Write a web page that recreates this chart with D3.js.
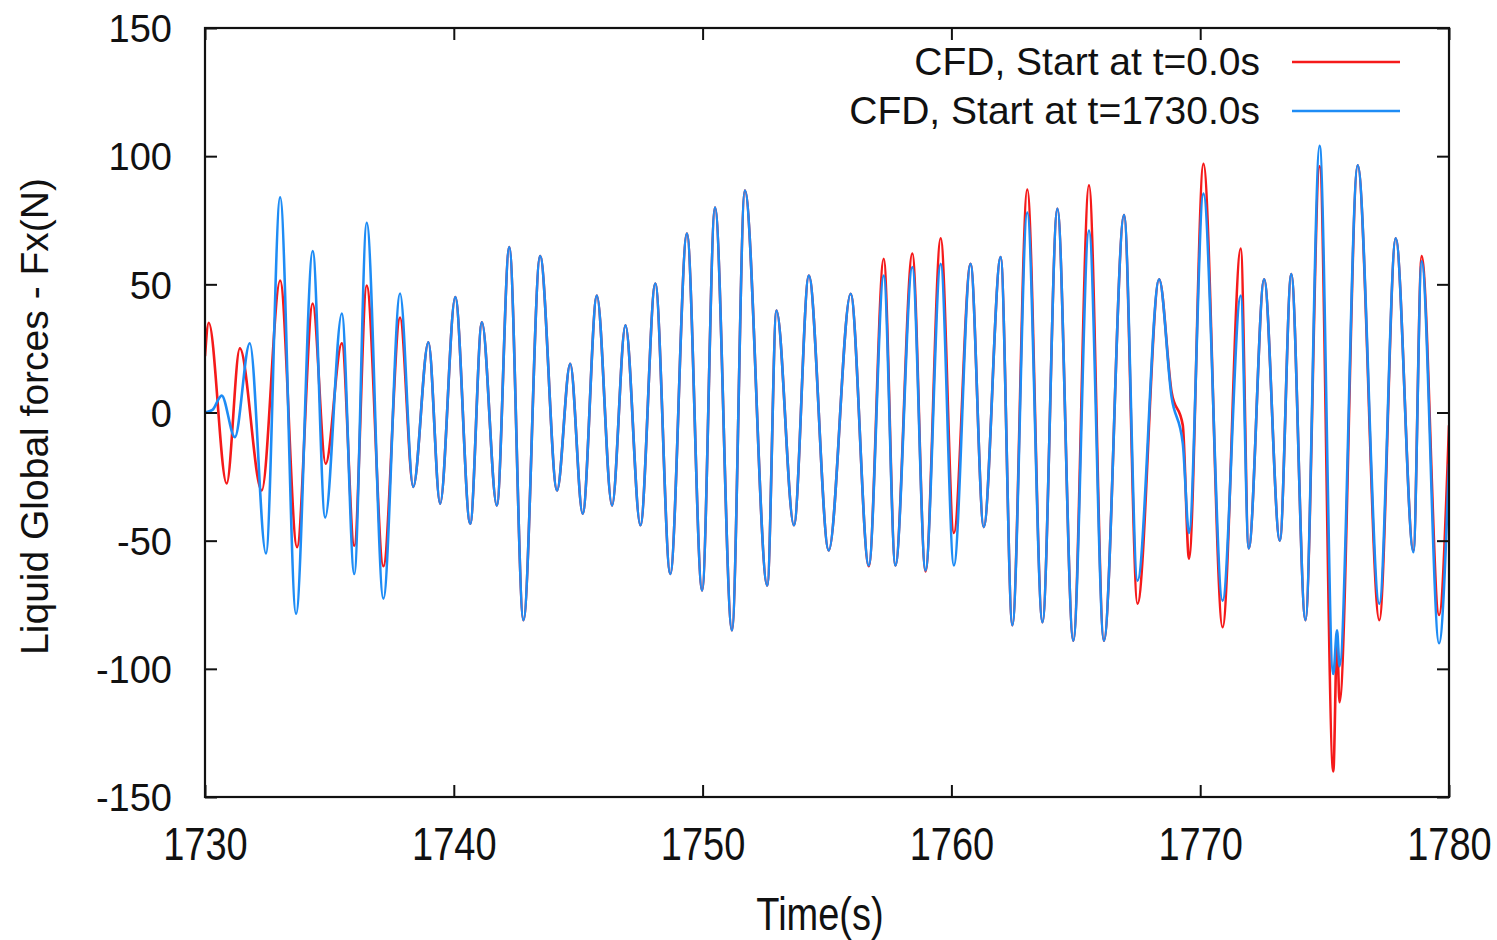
<!DOCTYPE html>
<html>
<head>
<meta charset="utf-8">
<script src="https://cdn.jsdelivr.net/npm/d3@7"></script>
<style>
  body { margin: 0; background: #fff; }
  svg text { font-family: "Liberation Sans", Arial, sans-serif; fill: #111; }
</style>
</head>
<body>
<svg id="chart"></svg>
<script>
// extrema (time in s, force in N)
const blueT = [1730.0, 1730.3, 1730.67, 1731.2, 1731.8, 1732.45, 1733.02, 1733.66, 1734.33, 1734.83,
  1735.5, 1736.0, 1736.5, 1737.17, 1737.84, 1738.37, 1738.98, 1739.45, 1740.06, 1740.66,
  1741.13, 1741.73, 1742.23, 1742.8, 1743.47, 1744.15, 1744.68, 1745.18, 1745.75, 1746.36,
  1746.9, 1747.5, 1748.1, 1748.7, 1749.37, 1749.98, 1750.5, 1751.18, 1751.7, 1752.6,
  1752.97, 1753.67, 1754.27, 1755.07, 1755.95, 1756.68, 1757.28, 1757.75, 1758.43, 1758.96,
  1759.57, 1760.1, 1760.77, 1761.3, 1761.98, 1762.45, 1763.05, 1763.66, 1764.26, 1764.9,
  1765.53, 1766.13, 1766.94, 1767.48, 1768.35, 1768.85, 1769.3, 1769.55, 1770.13, 1770.9,
  1771.63, 1771.95, 1772.57, 1773.2, 1773.66, 1774.23, 1774.8, 1775.35, 1775.5, 1775.6,
  1776.33, 1777.2, 1777.86, 1778.57, 1778.9, 1779.6, 1780.0];
const blueF = [0, 1, 6.6, -9.6, 27, -55, 84, -78.5, 63, -41,
  38.6, -63, 74, -72.6, 46.4, -29, 27.4, -35.6, 45, -43.4,
  35.2, -36.3, 64.5, -81, 61, -30.4, 19, -39.5, 45.6, -36.3,
  34, -44, 50.3, -63, 69.8, -69.4, 80, -85, 86.6, -67.5,
  39.8, -44, 53.4, -53.8, 46.3, -59.7, 53.4, -59.7, 56.7, -61.6,
  58, -59.7, 58, -44.7, 60.6, -83, 78, -81.8, 79.5, -89,
  71, -89, 77, -65.6, 52, 6, -12, -47, 85.4, -73.4,
  45.6, -53, 52, -50, 54, -81, 104, -102, -85, -99,
  96.4, -74.6, 68, -54.5, 59, -90, -20];

const redT = [1730.0, 1730.15, 1730.87, 1731.4, 1732.28, 1733.02, 1733.7, 1734.33, 1734.85, 1735.5,
  1736.0, 1736.5, 1737.17, 1737.84, 1738.37, 1738.98, 1739.45, 1740.06, 1740.66, 1741.13,
  1741.73, 1742.23, 1742.8, 1743.47, 1744.15, 1744.68, 1745.18, 1745.75, 1746.36, 1746.9,
  1747.5, 1748.1, 1748.7, 1749.37, 1749.98, 1750.5, 1751.18, 1751.7, 1752.6, 1752.97,
  1753.67, 1754.27, 1755.07, 1755.95, 1756.68, 1757.28, 1757.75, 1758.43, 1758.96, 1759.57,
  1760.1, 1760.77, 1761.3, 1761.98, 1762.45, 1763.05, 1763.66, 1764.26, 1764.9, 1765.53,
  1766.13, 1766.94, 1767.48, 1768.35, 1768.85, 1769.3, 1769.55, 1770.13, 1770.9, 1771.63,
  1771.95, 1772.57, 1773.2, 1773.66, 1774.23, 1774.8, 1775.35, 1775.5, 1775.6, 1776.33,
  1777.2, 1777.86, 1778.57, 1778.9, 1779.6, 1780.0];
const redF = [22, 35, -27.7, 25, -30.4, 51.5, -52.5, 42.5, -20, 27,
  -52, 49.5, -60, 37, -29, 27.4, -35.6, 45, -43.4, 35.2,
  -36.3, 64.5, -81, 61, -30.4, 19, -39.5, 45.6, -36.3, 34,
  -44, 50.3, -63, 69.8, -69.4, 80, -85, 86.6, -67.5, 39.8,
  -44, 53.4, -53.8, 46.3, -60, 60, -59.7, 62, -62, 68,
  -47, 58, -44.7, 60.6, -83, 87, -81.8, 79.5, -89, 88.6,
  -89, 77, -74.6, 52, 8, -5, -57, 97, -83.8, 64,
  -53, 52, -50, 54, -81, 96, -140, -88, -113, 96.4,
  -81, 68, -54, 61, -79, -5];

const seriesLabels = ["CFD, Start at t=0.0s", "CFD, Start at t=1730.0s"];
const seriesColors = ["#f51a1a", "#1e8cf5"];
const xTicks = [1730, 1740, 1750, 1760, 1770, 1780];
const yTicks = [-150, -100, -50, 0, 50, 100, 150];

const SVG_W = 1497;
const SVG_H = 940;
const PLOT = { left: 205, right: 1449, top: 28, bottom: 797 };
const TICK = 12;

const svg = d3.select("#chart")
  .attr("width", SVG_W)
  .attr("height", SVG_H);

const x = d3.scaleLinear().domain([1730, 1780]).range([PLOT.left, PLOT.right]);
const y = d3.scaleLinear().domain([-150, 150]).range([PLOT.bottom, PLOT.top]);

function pairs(ts, fs) {
  return ts.map((t, i) => ({ t: t, f: fs[i] }));
}

const line = d3.line()
  .x((d) => x(d.t))
  .y((d) => y(d.f))
  .curve(d3.curveMonotoneX);

// clip so the curves never poke outside the frame
svg.append("clipPath").attr("id", "plot-clip")
  .append("rect")
  .attr("x", PLOT.left).attr("y", PLOT.top)
  .attr("width", PLOT.right - PLOT.left)
  .attr("height", PLOT.bottom - PLOT.top);

const lines = svg.append("g").attr("clip-path", "url(#plot-clip)");

// red first, blue drawn over it
[pairs(redT, redF), pairs(blueT, blueF)].forEach((data, i) => {
  lines.append("path")
    .datum(data)
    .attr("d", line)
    .attr("fill", "none")
    .attr("stroke", seriesColors[i])
    .attr("stroke-width", 2.6)
    .attr("stroke-linejoin", "round");
});

// axes, ticks pointing inward on all four sides
const axisFont = 38;
const plainNum = (d) => String(d);   // keep the ascii hyphen, not the unicode minus

const gy = svg.append("g")
  .attr("transform", `translate(${PLOT.left},0)`)
  .call(d3.axisLeft(y).tickValues(yTicks).tickFormat(plainNum)
    .tickSize(-TICK).tickSizeOuter(0).tickPadding(33));
gy.selectAll("text").attr("font-size", axisFont).attr("dy", "0.36em");

const gx = svg.append("g")
  .attr("transform", `translate(0,${PLOT.bottom})`)
  .call(d3.axisBottom(x).tickValues(xTicks).tickFormat(plainNum)
    .tickSize(-TICK).tickSizeOuter(0).tickPadding(25));
gx.selectAll("text").attr("font-size", axisFont).attr("transform", "scale(1,1.22)");

svg.append("g")
  .attr("transform", `translate(${PLOT.right},0)`)
  .call(d3.axisRight(y).tickValues(yTicks).tickSize(-TICK).tickSizeOuter(0).tickFormat(""));

svg.append("g")
  .attr("transform", `translate(0,${PLOT.top})`)
  .call(d3.axisTop(x).tickValues(xTicks).tickSize(-TICK).tickSizeOuter(0).tickFormat(""));

svg.selectAll(".tick line").attr("stroke", "#111").attr("stroke-width", 2);
svg.selectAll(".domain").remove();

svg.append("rect")
  .attr("x", PLOT.left).attr("y", PLOT.top)
  .attr("width", PLOT.right - PLOT.left)
  .attr("height", PLOT.bottom - PLOT.top)
  .attr("fill", "none")
  .attr("stroke", "#111")
  .attr("stroke-width", 2.2);

// axis titles
svg.append("text")
  .attr("transform", `translate(820,930) scale(1,1.22)`)
  .attr("text-anchor", "middle")
  .attr("font-size", 38)
  .text("Time(s)");

svg.append("text")
  .attr("transform", `translate(48,${(PLOT.top + PLOT.bottom) / 2 + 4}) rotate(-90)`)
  .attr("text-anchor", "middle")
  .attr("font-size", 39)
  .text("Liquid Global forces - Fx(N)");

// legend
const legend = svg.append("g");
seriesLabels.forEach((label, i) => {
  const ly = 62 + i * 49;
  legend.append("text")
    .attr("x", 1260).attr("y", ly + 13)
    .attr("text-anchor", "end")
    .attr("font-size", 39)
    .text(label);
  legend.append("line")
    .attr("x1", 1292).attr("x2", 1400)
    .attr("y1", ly).attr("y2", ly)
    .attr("stroke", seriesColors[i])
    .attr("stroke-width", 2.6);
});
</script>
</body>
</html>
